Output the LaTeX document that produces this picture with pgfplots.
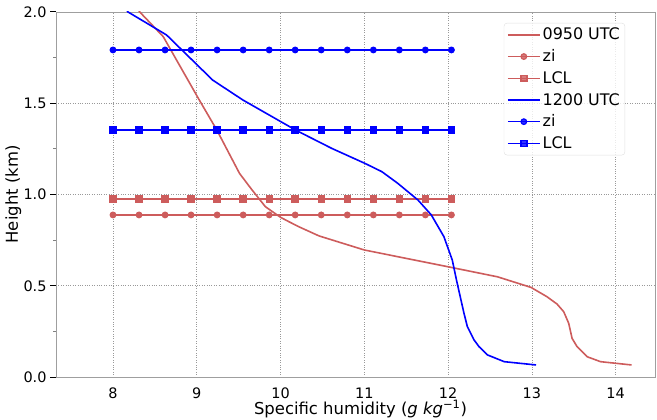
\documentclass[border=0pt]{standalone}
\usepackage{pgfplots}
\pgfplotsset{compat=1.18}
\usepackage{fontspec}
\setmainfont{DejaVu Sans}
\definecolor{ired}{RGB}{205,92,92}
\definecolor{pblue}{RGB}{0,0,255}
\newcommand{\fs}{\fontsize{14.5}{17}\selectfont}
\newcommand{\fl}{\fontsize{16.5}{19.5}\selectfont}
\newcommand{\fg}{\fontsize{16}{19}\selectfont}
\begin{document}
\begin{tikzpicture}[font=\fs]
\begin{axis}[
  scale only axis, width=599bp, height=365bp,
  xmin=7.32, xmax=14.47, ymin=0, ymax=2.0,
  xtick={8,9,10,11,12,13,14},
  ytick={0,0.5,1,1.5,2},
  minor ytick={0.25,0.75,1.25,1.75},
  /pgf/number format/assume math mode=true,
  tick label style={font=\fs},
  label style={font=\fl},
  yticklabel style={/pgf/number format/.cd, fixed, fixed zerofill, precision=1},
  xticklabel style={yshift=-1.5bp, /pgf/number format/.cd, fixed, precision=0},
  ytick pos=left, xtick pos=bottom,
  tick align=outside,
  xtick style={draw=none},
  major tick length=6bp, minor tick length=3bp,
  every major tick/.append style={black, line width=1bp},
  every minor tick/.append style={gray, line width=0.8bp},
  axis line style={gray!75, line width=0.9bp},
  grid=major,
  major grid style={dotted, gray!80, line width=0.6bp},
  xlabel={Specific humidity (\textit{g}~\textit{kg}\textsuperscript{−1})},
  ylabel={Height (km)},
  xlabel style={at={(rel axis cs:0.5,0)}, anchor=base, yshift=-37.5bp, xshift=5bp},
  ylabel style={at={(rel axis cs:0,0.5)}, anchor=base, yshift=38bp},
  legend style={at={(rel axis cs:0.95,0.97)}, anchor=north east, font=\fg,
    draw=gray!25, rounded corners=3bp, fill=white, fill opacity=0.8, text opacity=1,
    row sep=4.3bp, inner sep=3bp},
  legend cell align=left,
  legend image code/.code={\draw[mark repeat=2,mark phase=2] plot coordinates {(0bp,0bp) (16bp,0bp) (32bp,0bp)};},
]
% 0950 UTC
\addplot[ired, line width=1.6bp, no marks] coordinates {
(8.28,2.03) (8.32,2.0) (8.60,1.865) (9.03,1.518) (9.24,1.353) (9.51,1.116)
(9.66,1.025) (9.82,0.933) (10.0,0.875) (10.1,0.851) (10.22,0.823) (10.46,0.773)
(11.0,0.696) (12.0,0.604) (12.59,0.549) (12.99,0.491) (13.18,0.44) (13.30,0.40)
(13.38,0.358) (13.44,0.294) (13.48,0.212) (13.54,0.166) (13.66,0.111)
(13.82,0.084) (14.19,0.066)
};
\addlegendentry{0950 UTC}
\addplot[ired, line width=1.2bp, mark=*, mark size=2.8bp] coordinates {
(8.000,0.888) (8.311,0.888) (8.622,0.888) (8.932,0.888) (9.243,0.888) (9.554,0.888) (9.865,0.888)
(10.175,0.888) (10.486,0.888) (10.797,0.888) (11.108,0.888) (11.418,0.888) (11.729,0.888) (12.040,0.888)
};
\addlegendentry{zi}
\addplot[ired, line width=1.6bp, mark=square*, mark size=2.9bp] coordinates {
(8.000,0.975) (8.311,0.975) (8.622,0.975) (8.932,0.975) (9.243,0.975) (9.554,0.975) (9.865,0.975)
(10.175,0.975) (10.486,0.975) (10.797,0.975) (11.108,0.975) (11.418,0.975) (11.729,0.975) (12.040,0.975)
};
\addlegendentry{LCL}
% 1200 UTC
\addplot[pblue, line width=1.6bp, no marks] coordinates {
(8.14,2.025) (8.18,2.0) (8.64,1.874) (9.19,1.627) (9.55,1.518) (10.18,1.353)
(10.61,1.253) (11.01,1.170) (11.21,1.125) (11.40,1.061) (11.64,0.97) (11.80,0.888) (11.95,0.769)
(12.05,0.641) (12.10,0.532) (12.15,0.43) (12.19,0.349) (12.23,0.276) (12.31,0.203)
(12.37,0.166) (12.47,0.121) (12.67,0.084) (13.05,0.066)
};
\addlegendentry{1200 UTC}
\addplot[pblue, line width=1.2bp, mark=*, mark size=2.8bp] coordinates {
(8.000,1.792) (8.311,1.792) (8.622,1.792) (8.932,1.792) (9.243,1.792) (9.554,1.792) (9.865,1.792)
(10.175,1.792) (10.486,1.792) (10.797,1.792) (11.108,1.792) (11.418,1.792) (11.729,1.792) (12.040,1.792)
};
\addlegendentry{zi}
\addplot[pblue, line width=1.6bp, mark=square*, mark size=2.9bp] coordinates {
(8.000,1.353) (8.311,1.353) (8.622,1.353) (8.932,1.353) (9.243,1.353) (9.554,1.353) (9.865,1.353)
(10.175,1.353) (10.486,1.353) (10.797,1.353) (11.108,1.353) (11.418,1.353) (11.729,1.353) (12.040,1.353)
};
\addlegendentry{LCL}
\end{axis}
\pgfresetboundingbox
\path ([xshift=-56bp,yshift=-42bp]current axis.south west) rectangle ([xshift=2bp,yshift=12bp]current axis.north east);
\end{tikzpicture}
\end{document}
